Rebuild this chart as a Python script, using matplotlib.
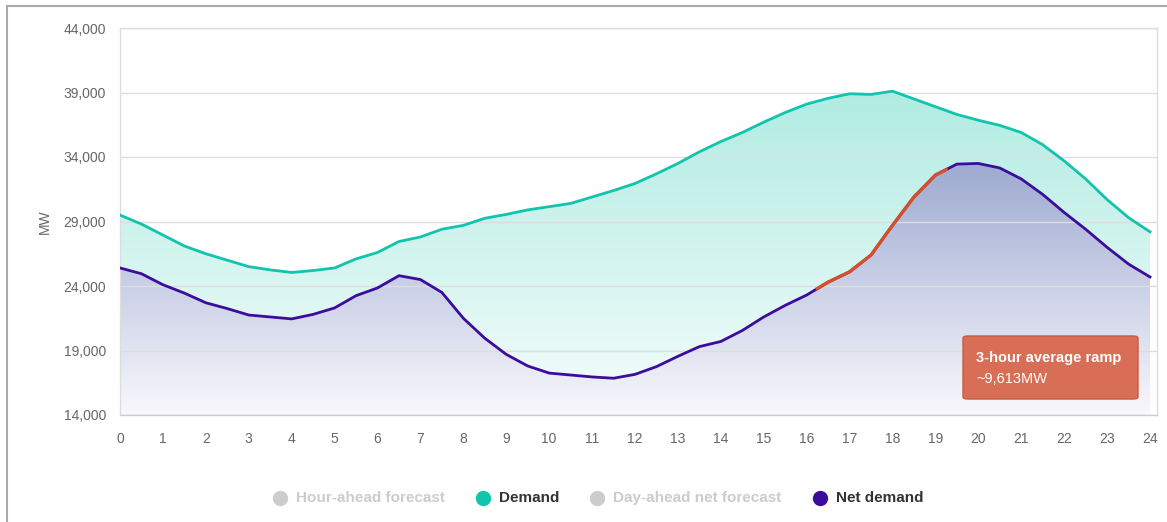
import numpy as np
import matplotlib
matplotlib.use("Agg")
from matplotlib import pyplot as plt
from matplotlib.lines import Line2D
from matplotlib.patches import FancyBboxPatch

plt.rcParams['font.family'] = ['Liberation Sans', 'DejaVu Sans']

# half-hourly readings, hour 0 .. 24
hours = np.arange(0, 24.5, 0.5)
demand = [29500, 28800, 27950, 27100, 26500, 26000, 25500, 25250, 25050, 25200,
          25400, 26100, 26600, 27450, 27800, 28400, 28700, 29250, 29550, 29900,
          30150, 30400, 30900, 31400, 31950, 32700, 33500, 34400, 35200, 35900,
          36700, 37450, 38100, 38550, 38900, 38850, 39100, 38500, 37900, 37300,
          36850, 36450, 35900, 34950, 33700, 32300, 30700, 29300, 28200]
net_demand = [25400, 24950, 24100, 23450, 22700, 22250, 21750, 21600, 21450, 21800,
              22300, 23250, 23850, 24800, 24500, 23500, 21500, 19950, 18700, 17800,
              17250, 17100, 16950, 16850, 17150, 17750, 18550, 19300, 19700, 20550,
              21600, 22500, 23300, 24300, 25100, 26400, 28700, 30900, 32600, 33450,
              33500, 33150, 32300, 31100, 29700, 28400, 27000, 25700, 24700]

# 3-hour ramp window on the net demand curve
ramp_start = (16.25, 23800)
ramp_end = (19.25, 33025)

y_ticks = [14000, 19000, 24000, 29000, 34000, 39000, 44000]
x_ticks = list(range(0, 25))
legend_items = ["Hour-ahead forecast", "Demand", "Day-ahead net forecast", "Net demand"]
ramp_label = "3-hour average ramp"
ramp_value = "~9,613MW"

DEMAND_C = "#11c4ad"
NET_C = "#3c0d9c"
RAMP_C = "#d4502a"


def gradient_fill(ax, x, y, top_rgb, bottom_rgb, y0, y1, zorder):
    poly = ax.fill_between(x, y, 14000, facecolor="none", edgecolor="none", zorder=zorder)
    t = np.linspace(0, 1, 256)[:, None]
    top = np.array(top_rgb) / 255.0
    bot = np.array(bottom_rgb) / 255.0
    img = bot + (top - bot) * t
    img = img[:, None, :]
    im = ax.imshow(img, extent=[0, 24, y0, y1], origin="lower", aspect="auto",
                   interpolation="bilinear", zorder=zorder)
    im.set_clip_path(poly.get_paths()[0], transform=ax.transData)
    return im


fig = plt.figure(figsize=(11.67, 5.22), dpi=100)
ax = fig.add_axes([120 / 1167, 1 - 415 / 522, (1157 - 120) / 1167, (415 - 28) / 522])

gradient_fill(ax, hours, demand, (176, 236, 226), (246, 253, 252), 14000, max(demand), 1)
gradient_fill(ax, hours, net_demand, (158, 170, 209), (248, 248, 252), 14000, max(net_demand), 2)

ax.plot(hours, demand, color=DEMAND_C, lw=2.0, zorder=4, solid_joinstyle="round")
ax.plot(hours, net_demand, color=NET_C, lw=2.0, zorder=4, solid_joinstyle="round")

net_arr = np.array(net_demand)
inside = (hours > ramp_start[0]) & (hours < ramp_end[0])
rx = np.concatenate([[ramp_start[0]], hours[inside], [ramp_end[0]]])
ry = np.concatenate([[ramp_start[1]], net_arr[inside], [ramp_end[1]]])
ax.plot(rx, ry, color=RAMP_C, lw=2.4, zorder=5, solid_joinstyle="round")

ax.set_xlim(0, 24.163)
ax.set_ylim(14000, 44000)
ax.set_yticks(y_ticks)
ax.set_yticklabels([f"{v:,}" for v in y_ticks])
ax.set_xticks(x_ticks)
ax.set_xticklabels([str(v) for v in x_ticks])
ax.tick_params(length=0, colors="#666666", labelsize=10)
ax.tick_params(axis="y", pad=10)
ax.tick_params(axis="x", pad=12)
ax.grid(axis="y", color="#dddddd", lw=1, zorder=3)
ax.set_axisbelow(False)
for s in ax.spines.values():
    s.set_color("#dddddd")
    s.set_linewidth(1)
ax.spines["bottom"].set_color("#cccccc")
ax.set_ylabel("MW", color="#666666", fontsize=10, labelpad=8)

# ramp annotation box
box = FancyBboxPatch((963 / 1167, 1 - 399 / 522), (1138 - 963) / 1167, (399 - 336) / 522,
                     boxstyle="round,pad=0,rounding_size=0.004", transform=fig.transFigure,
                     facecolor="#d96e56", edgecolor="#c95a3f", lw=1, zorder=10)
fig.add_artist(box)
fig.text(976 / 1167, 1 - 358 / 522, ramp_label, color="white", fontsize=10.5,
         fontweight="bold", va="center", ha="left", zorder=11)
fig.text(976 / 1167, 1 - 379 / 522, ramp_value, color="white", fontsize=10.5,
         va="center", ha="left", zorder=11)

# legend
leg_y = 1 - 498 / 522
leg_x = [280, 483, 597, 820]
leg_colors = ["#cccccc", DEMAND_C, "#cccccc", NET_C]
leg_text_c = ["#cccccc", "#333333", "#cccccc", "#333333"]
for lx, lab, mc, tc in zip(leg_x, legend_items, leg_colors, leg_text_c):
    fig.add_artist(Line2D([lx / 1167], [leg_y], marker="o", markersize=10,
                          color=mc, transform=fig.transFigure))
    fig.text((lx + 16) / 1167, leg_y, lab, color=tc, fontsize=11, fontweight="bold",
             va="center", ha="left")

# outer frame
fig.add_artist(Line2D([7 / 1167, 7 / 1167], [0, 1 - 6 / 522], color="#aaaaaa", lw=1.5,
                      transform=fig.transFigure))
fig.add_artist(Line2D([7 / 1167, 1], [1 - 6 / 522, 1 - 6 / 522], color="#aaaaaa", lw=1.5,
                      transform=fig.transFigure))

fig.savefig("out.png", dpi=100)
